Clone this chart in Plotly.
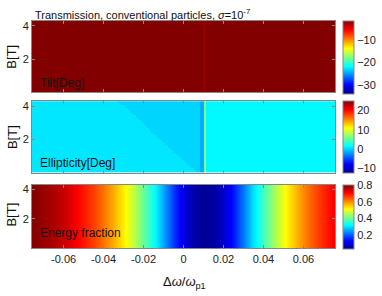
import numpy as np
import plotly.graph_objects as go

W, H = 382, 296

# ---------------- data ----------------
B_range = [0.0, 4.3]
x_range = [-0.0758, 0.0758]
x_ticks = [-0.06, -0.04, -0.02, 0, 0.02, 0.04, 0.06]
x_ticktext = ["-0.06", "-0.04", "-0.02", "0", "0.02", "0.04", "0.06"]
B_ticks = [2, 4]

# Panel 3: energy fraction vs detuning (uniform in B)
x_energy = [-0.075, -0.070, -0.065, -0.060, -0.055, -0.050, -0.045, -0.040,
            -0.035, -0.030, -0.025, -0.020, -0.015, -0.010, -0.005, 0.000,
            0.005, 0.010, 0.015, 0.020, 0.025, 0.030, 0.035, 0.040,
            0.045, 0.050, 0.055, 0.060, 0.065, 0.070, 0.075]
energy_fraction = [0.805, 0.790, 0.775, 0.755, 0.725, 0.695, 0.665, 0.625,
                   0.580, 0.530, 0.470, 0.400, 0.335, 0.255, 0.175, 0.110,
                   0.065, 0.046, 0.055, 0.090, 0.150, 0.225, 0.305, 0.375,
                   0.445, 0.510, 0.560, 0.610, 0.650, 0.685, 0.715]

# Panel 1: tilt (almost uniform, thin line near resonance)
tilt_x_edges = [-0.0760, 0.0100, 0.0110, 0.0760]
tilt_values = [-1.6, -2.3, -1.6]

# Panel 2: ellipticity
ell_B_edges = [round(0.15 * k, 2) for k in range(30)]
ell_boundary_x = [0.0062, 0.0047, 0.0032, 0.0017, 0.0003, -0.0011, -0.0025,
                  -0.0039, -0.0053, -0.0067, -0.0081, -0.0095, -0.0109,
                  -0.0123, -0.0137, -0.0150, -0.0163, -0.0176, -0.0189,
                  -0.0202, -0.0215, -0.0228, -0.0241, -0.0254, -0.0268,
                  -0.0282, -0.0297, -0.0313, -0.0330]
ell_left, ell_inner, ell_strip, ell_green, ell_yellow, ell_right = 0.5, -0.2, -1.6, 6.0, 10.0, 1.2
ell_strip_x, ell_line_x, ell_line_mid, ell_line_end = 0.0080, 0.0100, 0.0105, 0.0110

tilt_c = [-34, -1.5]
ell_c = [-12.8, 25]
en_c = [0.04, 0.81]
# -------------------------------------------------------------

jet = [[0, 'rgb(0,0,143)'], [0.125, 'rgb(0,0,255)'], [0.375, 'rgb(0,255,255)'],
       [0.625, 'rgb(255,255,0)'], [0.875, 'rgb(255,0,0)'], [1, 'rgb(128,0,0)']]

ell_x_edges = np.round(np.arange(-0.0760, 0.07601, 0.0005), 5)
ell_x_cent = (ell_x_edges[:-1] + ell_x_edges[1:]) / 2
ell_z = []
for xb in ell_boundary_x:
    row = []
    for c in ell_x_cent:
        if c < xb:
            v = ell_left
        elif c < ell_strip_x:
            v = ell_inner
        elif c < ell_line_x:
            v = ell_strip
        elif c < ell_line_mid:
            v = ell_green
        elif c < ell_line_end:
            v = ell_yellow
        else:
            v = ell_right
        row.append(v)
    ell_z.append(row)

FONT = "Liberation Sans, Arial, sans-serif"
GREY = "rgb(135,135,135)"


def px_x(p):
    return p / W


def px_y(p):
    return 1 - p / H


def cbar(top, bottom, tickvals):
    return dict(x=px_x(343), xanchor='left', xpad=0, ypad=0,
                y=px_y((top + bottom) / 2), yanchor='middle',
                len=(bottom - top) / H, lenmode='fraction', thickness=11,
                outlinecolor=GREY, outlinewidth=1, tickvals=tickvals,
                ticks='', tickfont=dict(family=FONT, size=11, color='#222'))


fig = go.Figure()
fig.add_trace(go.Heatmap(x=tilt_x_edges, y=B_range, z=[tilt_values],
                         colorscale=jet, zmin=tilt_c[0], zmax=tilt_c[1],
                         xaxis='x2', yaxis='y2',
                         colorbar=cbar(19, 92, [-10, -20, -30])))
fig.add_trace(go.Heatmap(x=ell_x_edges, y=ell_B_edges, z=ell_z,
                         colorscale=jet, zmin=ell_c[0], zmax=ell_c[1],
                         xaxis='x3', yaxis='y3',
                         colorbar=cbar(100, 172, [-10, 0, 10, 20])))
fig.add_trace(go.Heatmap(x=x_energy, y=B_range, z=[energy_fraction, energy_fraction],
                         colorscale=jet, zmin=en_c[0], zmax=en_c[1], zsmooth='best',
                         xaxis='x', yaxis='y',
                         colorbar=cbar(184, 248, [0.2, 0.4, 0.6, 0.8])))


def axis(domain, labels, **kw):
    d = dict(domain=domain, showline=True, linecolor=GREY, linewidth=1,
             mirror='ticks', ticks='inside', ticklen=3, tickcolor=GREY,
             showgrid=False, zeroline=False, showticklabels=labels,
             tickfont=dict(family=FONT, size=11, color='#222'))
    d.update(kw)
    return d


xd = [px_x(32), px_x(335)]
layout = dict(
    width=W, height=H, margin=dict(l=0, r=0, t=0, b=0),
    paper_bgcolor='white', plot_bgcolor='white', showlegend=False,
    xaxis=axis(xd, True, anchor='y', range=x_range, tickvals=x_ticks, ticktext=x_ticktext),
    yaxis=axis([px_y(248), px_y(184)], True, anchor='x', range=B_range, tickvals=B_ticks),
    xaxis2=axis(xd, False, anchor='y2', range=x_range, tickvals=x_ticks),
    yaxis2=axis([px_y(91), px_y(19)], True, anchor='x2', range=B_range, tickvals=B_ticks),
    xaxis3=axis(xd, False, anchor='y3', range=x_range, tickvals=x_ticks),
    yaxis3=axis([px_y(172), px_y(100)], True, anchor='x3', range=B_range, tickvals=B_ticks),
)
fig.update_layout(**layout)

ann = []
ann.append(dict(text="Transmission, conventional particles, <i>σ</i>=10<sup>-7</sup>",
                x=px_x(33), y=px_y(12), xanchor='left', yanchor='middle',
                font=dict(family=FONT, size=11, color='#111')))
for yc in (55, 136, 214):
    ann.append(dict(text="B[T]", x=px_x(12), y=px_y(yc), textangle=-90,
                    xanchor='center', yanchor='middle',
                    font=dict(family=FONT, size=13, color='#111')))
for txt, yc in (("Tilt[Deg]", 82), ("Ellipticity[Deg]", 162), ("Energy fraction", 233)):
    ann.append(dict(text=txt, x=px_x(38), y=px_y(yc), xanchor='left', yanchor='middle',
                    font=dict(family=FONT, size=12, color='#111')))
ann.append(dict(text="Δ<i>ω</i>/<i>ω</i><sub>p1</sub>", x=px_x(184), y=px_y(282),
                xanchor='center', yanchor='middle',
                font=dict(family=FONT, size=13, color='#111')))
for a in ann:
    a.update(xref='paper', yref='paper', showarrow=False)
fig.update_layout(annotations=ann)

fig.write_html("out.html", config={'displayModeBar': False},
               post_script="document.body.style.margin='0px';document.body.style.overflow='hidden';")
